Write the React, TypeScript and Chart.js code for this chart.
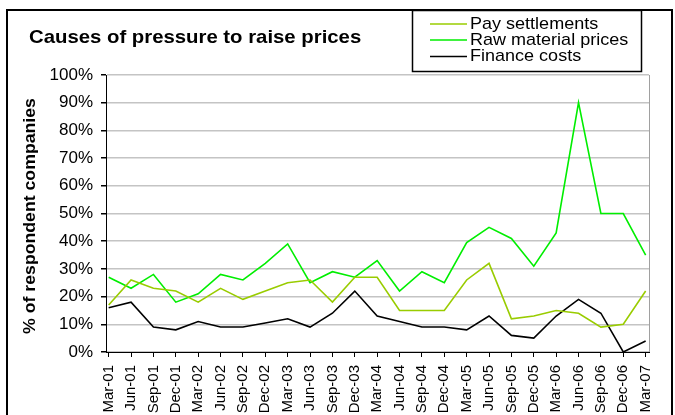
import React, { useEffect, useRef } from "react";
import { Chart, registerables } from "chart.js";

Chart.register(...registerables);

const categories = ["Mar-01","Jun-01","Sep-01","Dec-01","Mar-02","Jun-02","Sep-02","Dec-02","Mar-03","Jun-03","Sep-03","Dec-03","Mar-04","Jun-04","Sep-04","Dec-04","Mar-05","Jun-05","Sep-05","Dec-05","Mar-06","Jun-06","Sep-06","Dec-06","Mar-07"];
const paySettlements = [17, 26, 23, 22, 18, 23, 19, 22, 25, 26, 18, 27, 27, 15, 15, 15, 26, 32, 12, 13, 15, 14, 9, 10, 22];
const rawMaterialPrices = [27, 23, 28, 18, 21, 28, 26, 32, 39, 25, 29, 27, 33, 22, 29, 25, 39.5, 45, 41, 31, 43, 90, 50, 50, 35];
const financeCosts = [16, 18, 9, 8, 11, 9, 9, 10.5, 12, 9, 14, 22, 13, 11, 9, 9, 8, 13, 6, 5, 13, 19, 14, 0, 4];
const yTicks = [0, 10, 20, 30, 40, 50, 60, 70, 80, 90, 100];

const seriesNames = ["Pay settlements", "Raw material prices", "Finance costs"];
const seriesColors = ["#99CC00", "#00EE00", "#000000"];
const titleText = "Causes of pressure to raise prices";
const yTitleText = "% of respondent companies";

const FONT = "'Liberation Sans', Arial, Helvetica, sans-serif";

const decor = {
  id: "decor",
  afterDraw(chart: any) {
    const ctx = chart.ctx as CanvasRenderingContext2D;
    const a = chart.chartArea;
    ctx.save();
    // right frame of plot area
    ctx.strokeStyle = "#a0a0a0";
    ctx.lineWidth = 1;
    ctx.beginPath();
    ctx.moveTo(Math.round(a.right) + 0.5, Math.round(a.top));
    ctx.lineTo(Math.round(a.right) + 0.5, Math.round(a.bottom));
    ctx.stroke();

    // outer border
    ctx.strokeStyle = "#000";
    ctx.lineWidth = 2;
    ctx.strokeRect(7, 10, 665, 430);

    // title
    ctx.fillStyle = "#000";
    ctx.font = `bold 19px ${FONT}`;
    ctx.textAlign = "left";
    ctx.textBaseline = "alphabetic";
    ctx.save();
    ctx.translate(29, 43);
    ctx.scale(1.07, 1);
    ctx.fillText(titleText, 0, 0);
    ctx.restore();

    // y axis title
    ctx.save();
    ctx.translate(35, 216);
    ctx.rotate(-Math.PI / 2);
    ctx.font = `bold 17px ${FONT}`;
    ctx.textAlign = "center";
    ctx.scale(1.04, 1);
    ctx.fillText(yTitleText, 0, 0);
    ctx.restore();

    // legend box
    ctx.fillStyle = "#fff";
    ctx.fillRect(412, 10, 229, 62);
    ctx.strokeStyle = "#000";
    ctx.lineWidth = 1.5;
    ctx.strokeRect(412.5, 10.5, 229, 61);
    const rows = [23.5, 39.5, 56];
    seriesNames.forEach((name, i) => {
      ctx.strokeStyle = seriesColors[i];
      ctx.lineWidth = 1.5;
      ctx.beginPath();
      ctx.moveTo(430, rows[i] + 0.5);
      ctx.lineTo(467, rows[i] + 0.5);
      ctx.stroke();
      ctx.fillStyle = "#000";
      ctx.font = `17px ${FONT}`;
      ctx.textAlign = "left";
      ctx.textBaseline = "middle";
      ctx.save();
      ctx.translate(470, rows[i] + 0.5);
      ctx.scale(1.06, 1);
      ctx.fillText(name, 0, 0);
      ctx.restore();
    });
    ctx.restore();
  },
};

export default function App() {
  const ref = useRef<HTMLCanvasElement | null>(null);
  useEffect(() => {
    if (!ref.current) return;
    const series = [paySettlements, rawMaterialPrices, financeCosts];
    const chart = new Chart(ref.current, {
      type: "line",
      data: {
        datasets: series.map((vals, i) => ({
          label: seriesNames[i],
          data: vals.map((v, j) => ({ x: j, y: v })),
          borderColor: seriesColors[i],
          backgroundColor: seriesColors[i],
          borderWidth: 1.6,
          pointRadius: 0,
          tension: 0,
          fill: false,
        })),
      },
      options: {
        responsive: false,
        animation: false,
        devicePixelRatio: 1,
        layout: { padding: { left: 0, top: 75, right: 26, bottom: 0 } },
        plugins: {
          legend: { display: false },
          title: { display: false },
          tooltip: { enabled: false },
        },
        scales: {
          x: {
            type: "linear",
            min: -0.12,
            max: 24.15,
            afterBuildTicks: (scale: any) => {
              scale.ticks = categories.map((_, i) => ({ value: i }));
            },
            afterFit: (scale: any) => {
              scale.height = 63;
            },
            ticks: {
              autoSkip: false,
              maxRotation: 90,
              minRotation: 90,
              padding: 8,
              color: "#000",
              font: { family: FONT, size: 15 },
              callback: (v: any) => categories[v] ?? "",
            },
            grid: {
              drawOnChartArea: false,
              drawTicks: true,
              tickLength: 5,
              tickColor: "#000",
            },
            border: { color: "#000", width: 1 },
          },
          y: {
            min: 0,
            max: 100,
            afterBuildTicks: (scale: any) => {
              scale.ticks = yTicks.map((v) => ({ value: v }));
            },
            afterFit: (scale: any) => {
              scale.width = 106;
            },
            ticks: {
              padding: 8,
              color: "#000",
              font: { family: FONT, size: 17 },
              callback: (v: any) => `${v}%`,
            },
            grid: {
              color: "#c4c4c4",
              lineWidth: 1.5,
              drawTicks: true,
              tickLength: 5,
              tickColor: "#000",
            },
            border: { color: "#000", width: 1 },
          },
        },
      },
      plugins: [decor],
    } as any);
    return () => chart.destroy();
  }, []);
  return (
    <div style={{ position: "fixed", left: 0, top: 0, width: 675, height: 415, background: "#fff" }}>
      <canvas ref={ref} width={675} height={415} style={{ display: "block" }} />
    </div>
  );
}
